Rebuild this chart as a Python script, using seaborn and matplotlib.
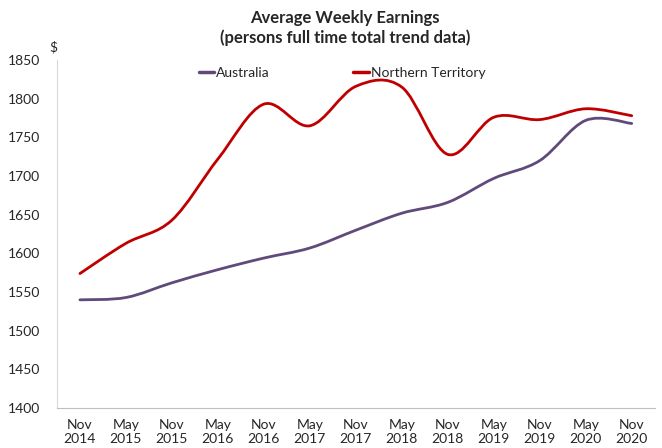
import matplotlib
matplotlib.use("Agg")
import matplotlib.pyplot as plt
from matplotlib.path import Path
from matplotlib.patches import PathPatch
from matplotlib.lines import Line2D
import seaborn as sns

periods = ["Nov\n2014", "May\n2015", "Nov\n2015", "May\n2016", "Nov\n2016", "May\n2017",
           "Nov\n2017", "May\n2018", "Nov\n2018", "May\n2019", "Nov\n2019", "May\n2020", "Nov\n2020"]
australia = [1540, 1543, 1562, 1579, 1594, 1607, 1630, 1652, 1666, 1697, 1720, 1772, 1768]
northern_territory = [1574, 1613, 1643, 1722, 1793, 1765, 1816, 1815, 1728, 1776, 1773, 1787, 1778]

series = {"Australia": (australia, "#604A7B"),
          "Northern Territory": (northern_territory, "#C00000")}

sns.set_style("white")
plt.rcParams["font.family"] = ["Lato", "DejaVu Sans"]


def smooth_path(xs, ys):
    # excel-style smoothed line: cubic bezier through every point
    n = len(xs)
    verts = [(xs[0], ys[0])]
    codes = [Path.MOVETO]
    for i in range(n - 1):
        x0, y0 = xs[max(i - 1, 0)], ys[max(i - 1, 0)]
        x1, y1 = xs[i], ys[i]
        x2, y2 = xs[i + 1], ys[i + 1]
        x3, y3 = xs[min(i + 2, n - 1)], ys[min(i + 2, n - 1)]
        verts += [(x1 + (x2 - x0) / 6, y1 + (y2 - y0) / 6),
                  (x2 - (x3 - x1) / 6, y2 - (y3 - y1) / 6),
                  (x2, y2)]
        codes += [Path.CURVE4] * 3
    return Path(verts, codes)


fig = plt.figure(figsize=(6.62, 4.48), dpi=100)
ax = fig.add_axes([0.086, 0.089, 0.903, 0.777])

pos = list(range(len(periods)))
handles = []
for name, (vals, col) in series.items():
    ax.add_patch(PathPatch(smooth_path(pos, vals), fill=False, edgecolor=col,
                           linewidth=2.0, capstyle="round"))
    handles.append(Line2D([0], [0], color=col, linewidth=2.5, label=name))

ax.set_xlim(-0.5, len(periods) - 0.5)
ax.set_ylim(1400, 1850)
ax.set_yticks(range(1400, 1851, 50))
ax.set_xticks(pos)
ax.set_xticklabels(periods)
ax.tick_params(axis="both", labelsize=10, colors="#262626", length=0)
ax.tick_params(axis="y", pad=12)
ax.tick_params(axis="x", pad=8)

sns.despine(ax=ax)
ax.spines["left"].set_color("#d9d9d9")
ax.spines["bottom"].set_color("#bfbfbf")

ax.legend(handles=handles, loc="center", bbox_to_anchor=(0.477, 0.963), ncol=2,
          frameon=False, fontsize=10, handlelength=1.1, handletextpad=0.15,
          columnspacing=6.0)

fig.text(0.521, 0.978, "Average Weekly Earnings\n(persons full time total trend data)",
         ha="center", va="top", fontsize=12, fontweight="bold", linespacing=1.25)
fig.text(0.08, 0.895, "$", ha="center", va="center", fontsize=10, color="#262626")

fig.savefig("out.png", dpi=100)
